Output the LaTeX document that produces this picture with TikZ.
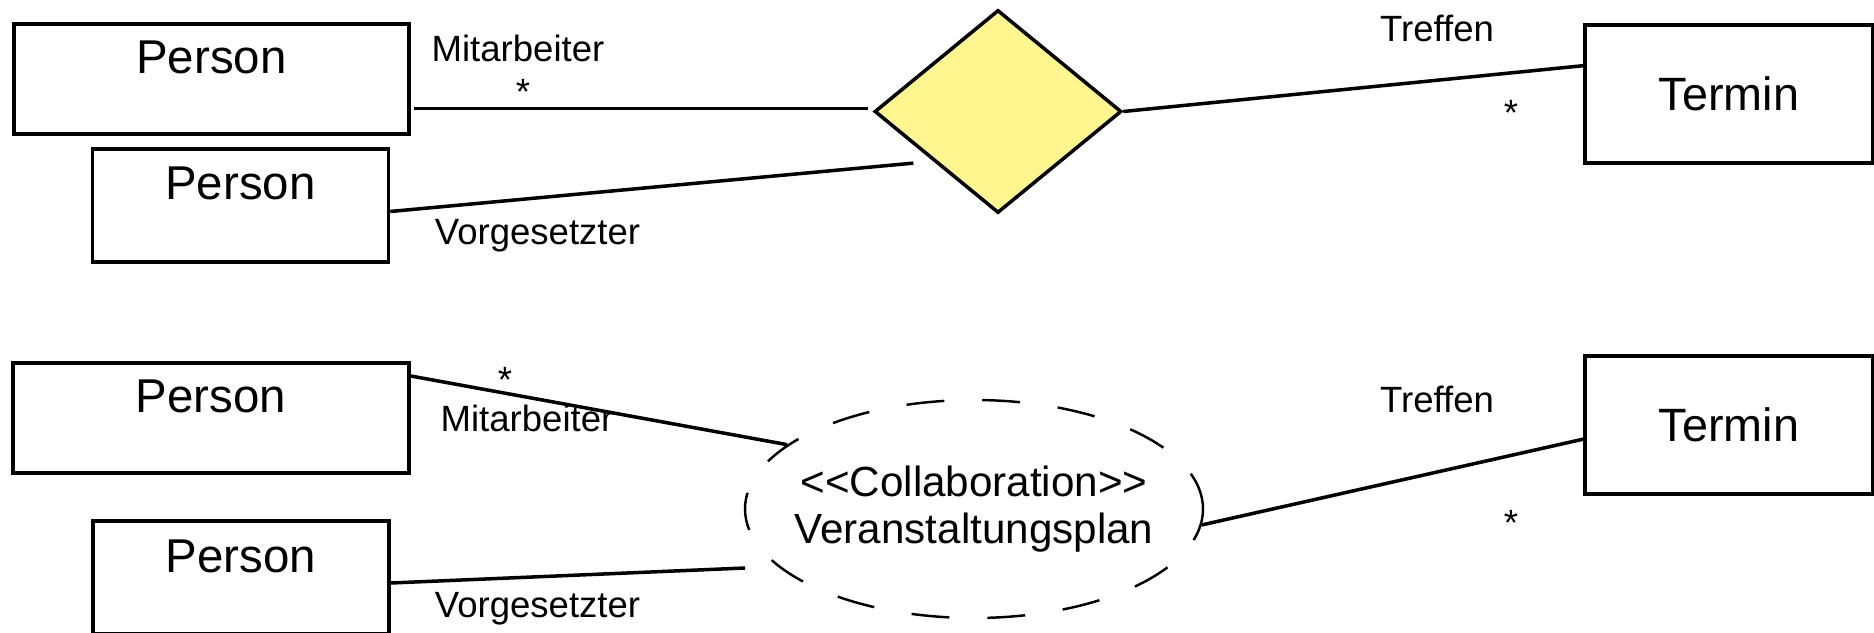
\documentclass[tikz,border=0pt]{standalone}
\usepackage{fontspec}
\setmainfont{Liberation Sans}
\usetikzlibrary{shapes.geometric,calc}
\definecolor{relcolor}{RGB}{255, 246, 143}

\begin{document}
\begin{tikzpicture}[
    classbox/.style={rectangle, draw, line width=1pt, minimum height=1.1cm, inner sep=2pt, text height=0.35cm, text depth=0.46cm, font=\fontsize{13.5}{16}\selectfont},
    termin/.style={rectangle, draw, line width=1pt, minimum width=2.88cm, minimum height=1.38cm, font=\fontsize{13.3}{16}\selectfont},
    role/.style={anchor=base, inner sep=0pt, font=\fontsize{10.4}{12}\selectfont},
    assoc/.style={line width=1pt},
]
    \useasboundingbox (0,0) rectangle (18.74,6.32);

    % Upper diagram: relation diamond
    \node[classbox, minimum width=3.95cm] (pers1) at (2.115, 5.53) {Person};
    \node[classbox, minimum width=2.96cm, minimum height=1.13cm] (pers2) at (2.405, 4.265) {Person};
    \node[diamond, draw, line width=1pt, fill=relcolor, minimum width=2.47cm, minimum height=2.03cm, inner sep=0pt] (rel) at (9.98, 5.205) {};
    \node[termin] (term1) at (17.29, 5.38) {Termin};

    % Upper connectors
    \draw[assoc, shorten <=0.05cm, shorten >=0.03cm] (rel.west) ++(0,0.03) coordinate (mitend) -- (mitend -| pers1.east);
    \draw[assoc] ([yshift=-0.06cm]pers2.east) -- ([xshift=-0.22cm]rel.south west);
    \draw[assoc] (rel.east) -- ($(term1.north west)!0.3!(term1.south west)$);

    % Upper role names
    \node[role] (mit1) at (5.18, 5.70) {Mitarbeiter};
    \node[role] (star1) at (5.23, 5.27) {*};
    \node[role] (vor1) at (5.375, 3.87) {Vorgesetzter};
    \node[role] (tref1) at (14.37, 5.90) {Treffen};
    \node[role] (star2) at (15.11, 5.06) {*};

    % Lower diagram: collaboration
    \node[classbox, minimum width=3.96cm] (pers3) at (2.11, 2.14) {Person};
    \node[classbox, minimum width=2.96cm, minimum height=1.13cm] (pers4) at (2.41, 0.545) {Person};
    \node[ellipse, draw, line width=0.7pt, dash pattern=on 10.8pt off 10.8pt, minimum width=4.58cm, minimum height=2.18cm, inner sep=-0.3cm, align=center, font=\fontsize{12}{13.6}\selectfont] (collab) at (9.74, 1.23) {<{}<Collaboration>{}>\\Veranstaltungsplan};
    \node[termin] (term2) at (17.29, 2.07) {Termin};
    \coordinate (vend) at (7.45, 0.64);

    % Lower connectors
    \draw[assoc] ($(pers3.north east)!0.13!(pers3.south east)$) -- (collab.161);
    \draw[assoc] ([yshift=-0.055cm]pers4.east) -- (vend);
    \draw[assoc] (collab.-4) -- ($(term2.north west)!0.6!(term2.south west)$);

    % Lower role names
    \node[role] (star3) at (5.05, 2.39) {*};
    \node[role] (mit2) at (5.27, 2.00) {Mitarbeiter};
    \node[role] (vor2) at (5.375, 0.15) {Vorgesetzter};
    \node[role] (tref2) at (14.37, 2.20) {Treffen};
    \node[role] (star4) at (15.11, 0.97) {*};
\end{tikzpicture}
\end{document}
